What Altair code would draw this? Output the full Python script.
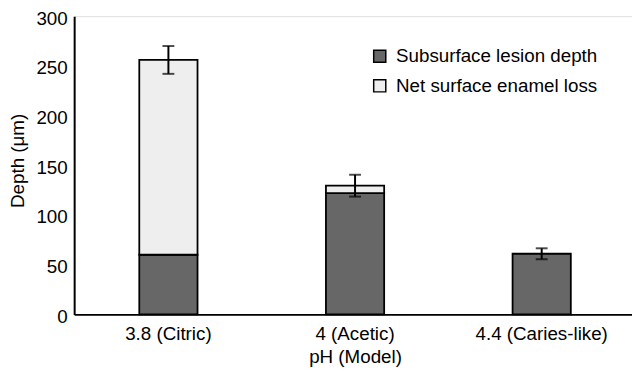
import altair as alt
import pandas as pd

categories = ["3.8 (Citric)", "4 (Acetic)", "4.4 (Caries-like)"]
subsurface = [60, 122, 61]
net_loss = [196, 7.5, 0]
err = [14, 11, 5.5]

series_names = ["Subsurface lesion depth", "Net surface enamel loss"]
series_colors = ["#676767", "#eeeeee"]

rows = []
for c, s, n in zip(categories, subsurface, net_loss):
    rows.append({"cat": c, "series": series_names[0], "value": s, "ord": 0})
    if n > 0:
        rows.append({"cat": c, "series": series_names[1], "value": n, "ord": 1})
bars_df = pd.DataFrame(rows)

err_df = pd.DataFrame({
    "cat": categories,
    "lo": [s + n - e for s, n, e in zip(subsurface, net_loss, err)],
    "hi": [s + n + e for s, n, e in zip(subsurface, net_loss, err)],
})

FONT = "Liberation Sans"
FS = 19

xscale = alt.Scale(domain=categories, range=[0, 569], paddingInner=0.688, paddingOuter=0.349)
yscale = alt.Scale(domain=[0, 300], nice=False)

x_axis = alt.Axis(
    title="pH (Model)", labelAngle=0, ticks=False, domainColor="black", domainWidth=2,
    labelFontSize=FS, titleFontSize=FS, labelColor="black", titleColor="black",
    labelFont=FONT, titleFont=FONT, titleFontWeight="normal", labelPadding=10, titlePadding=5,
    labelLimit=0,
)
y_axis = alt.Axis(
    title="Depth (μm)", values=[0, 50, 100, 150, 200, 250, 300], ticks=False, grid=False,
    domainColor="black", domainWidth=2, labelFontSize=FS, titleFontSize=FS,
    labelColor="black", titleColor="black", labelFont=FONT, titleFont=FONT,
    titleFontWeight="normal", labelPadding=7, titlePadding=9, labelOffset=2, titleY=146,
)

bars = alt.Chart(bars_df).mark_bar(stroke="black", strokeWidth=1.8).encode(
    x=alt.X("cat:N", scale=xscale, axis=x_axis, sort=categories),
    y=alt.Y("value:Q", stack="zero", scale=yscale, axis=y_axis),
    order=alt.Order("ord:Q"),
    color=alt.Color(
        "series:N",
        scale=alt.Scale(domain=series_names, range=series_colors),
        legend=alt.Legend(
            title=None, orient="none", legendX=300, legendY=31,
            symbolType="square", symbolSize=150, symbolStrokeColor="black",
            symbolStrokeWidth=1.5, labelFontSize=FS, labelFont=FONT, labelColor="black",
            labelOffset=7, rowPadding=10, labelLimit=0,
        ),
    ),
)

rule = alt.Chart(err_df).mark_rule(color="black", strokeWidth=2).encode(
    x=alt.X("cat:N", scale=xscale, sort=categories),
    y=alt.Y("lo:Q", scale=yscale),
    y2="hi:Q",
)
cap_lo = alt.Chart(err_df).mark_tick(color="black", thickness=2, size=12, orient="horizontal").encode(
    x=alt.X("cat:N", scale=xscale, sort=categories),
    y=alt.Y("lo:Q", scale=yscale),
)
cap_hi = alt.Chart(err_df).mark_tick(color="black", thickness=2, size=12, orient="horizontal").encode(
    x=alt.X("cat:N", scale=xscale, sort=categories),
    y=alt.Y("hi:Q", scale=yscale),
)

chart = alt.layer(bars, rule, cap_lo, cap_hi).properties(
    width=565, height=302,
    autosize=alt.AutoSizeParams(type="none"),
    padding={"left": 67, "top": 6, "right": 0, "bottom": 54},
).configure_view(stroke=None).configure(background="white")

chart.save("out.html", embed_options={"renderer": "svg", "actions": False})
